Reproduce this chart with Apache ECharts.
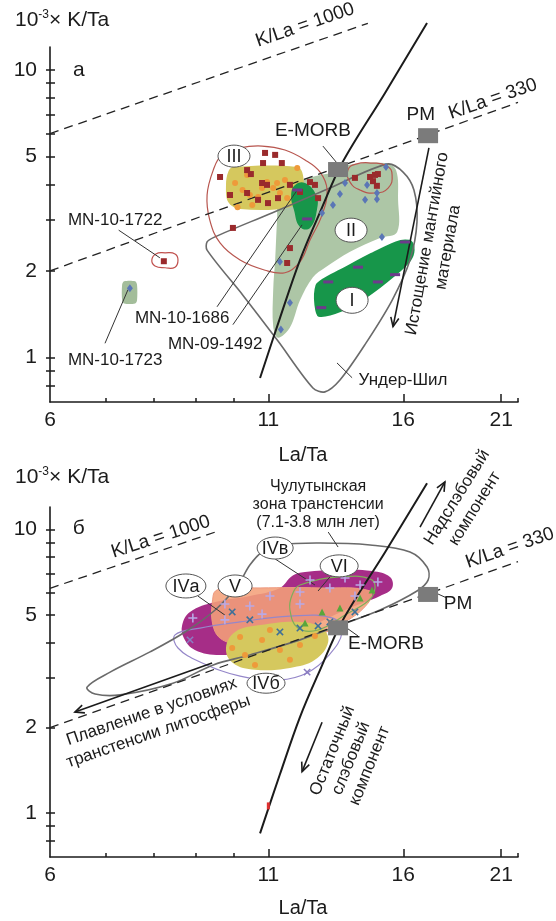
<!DOCTYPE html>
<html>
<head>
<meta charset="utf-8">
<script src="https://cdn.jsdelivr.net/npm/echarts@6/dist/echarts.min.js"></script>
<style>
  html, body { margin: 0; padding: 0; background: #fff; }
  #c { width: 556px; height: 921px; }
</style>
</head>
<body>
<div id="c"></div>
<script>
const FONT = '"Liberation Sans", Arial, Helvetica, sans-serif';

// ---- axes ----
const xTickLabels = [6, 11, 16, 21];
const xMajorTicks = [11, 16, 21];
const xMinorTicks = [7, 8, 9, 10, 22];
const yTickLabels = [1, 2, 5, 10];
const yTicks = [0.8, 0.9, 1, 2, 3, 4, 5, 6, 7, 8, 9, 10];

// ---- reference compositions and lines (La/Ta, 10^-3 K/Ta) ----
const eMorb = [[13.35, 4.5]];
const pm = [[17.14, 5.9]];
const kLa330 = [[6, 2.0], [22, 7.7]];
const kLa1000a = [[6, 6.0], [14.5, 14.5]];
const kLa1000b = [[6, 6.2], [9.6, 9.9]];
const mixCurve = [[10.75, 0.848], [11.36, 1.37], [12.01, 2.18], [12.70, 3.20], [13.50, 4.74], [15.21, 8.31], [17.09, 14.54]];

// ---- panel а: fields ----
const fieldII = [[11.36,3.95],[12.01,4.14],[12.70,4.31],[13.24,4.41],[13.72,4.67],[15.21,4.74],[15.68,4.48],[15.77,3.53],[15.73,2.73],[15.00,2.60],[13.80,2.33],[12.87,2.05],[12.45,1.90],[12.01,1.58],[11.68,1.27],[11.30,1.17],[11.15,1.28],[11.15,1.72],[11.21,2.18],[11.27,3.00]];
const fieldIIIcore = [[9.97,4.59],[11.92,4.59],[12.11,4.31],[12.08,3.67],[11.68,3.33],[10.17,3.28],[9.84,3.47],[9.78,3.98],[9.84,4.41]];
const fieldIII = [[9.44,4.48],[9.67,5.06],[10.17,5.35],[10.81,5.43],[11.52,5.26],[12.18,4.86],[12.70,4.41],[12.95,3.82],[12.77,3.13],[12.35,2.56],[12.01,2.15],[11.52,1.97],[10.90,2.01],[10.17,2.18],[9.62,2.50],[9.35,3.00],[9.28,3.67]];
const blobDark = [[11.85,3.98],[12.18,4.04],[12.56,3.67],[12.59,3.26],[12.35,2.82],[12.01,2.84],[11.81,3.26],[11.72,3.67]];
const fieldI = [[16.08,2.60],[16.43,2.56],[16.58,2.36],[16.39,2.15],[15.64,1.89],[14.59,1.62],[13.54,1.43],[12.63,1.37],[12.45,1.52],[12.49,1.79],[12.77,1.90],[13.42,2.05],[14.59,2.33],[15.64,2.56]];
const underShil = [[9.47,2.62],[11.11,3.18],[13.05,3.88],[15.29,4.70],[15.99,4.41],[16.48,3.82],[16.62,2.96],[16.30,2.18],[15.51,1.58],[14.39,1.11],[13.42,0.835],[12.87,0.759],[12.45,0.783],[11.30,1.14],[10.26,1.64],[9.28,2.36],[9.28,2.52]];
const ringRight = [[13.72,4.48],[14.03,4.70],[14.67,4.74],[15.29,4.63],[15.51,4.31],[15.34,3.88],[14.79,3.73],[14.19,3.82],[13.80,4.07]];
const ring1722 = [[7.96,2.18],[8.05,2.29],[8.26,2.31],[8.49,2.29],[8.56,2.18],[8.49,2.06],[8.26,2.05],[8.03,2.08]];
const blob1723 = [[7.37,1.84],[7.60,1.84],[7.64,1.79],[7.64,1.58],[7.60,1.54],[7.37,1.54],[7.33,1.58],[7.33,1.79]];

// ---- panel а: samples ----
const squaresA = [[10.90,5.14],[11.21,5.06],[10.84,4.74],[11.42,4.74],[9.62,4.24],[10.37,4.48],[10.48,4.34],[10.81,4.04],[10.96,3.98],[9.89,3.67],[10.37,3.73],[10.69,3.53],[11.30,3.58],[10.99,3.44],[11.68,3.98],[12.35,4.07],[12.52,3.98],[12.63,3.58],[9.97,2.82],[11.68,2.40],[11.59,2.13],[12.01,3.76],[13.99,4.21],[14.59,4.24],[14.79,4.31],[14.91,4.34],[14.71,4.10],[14.87,3.95],[8.23,2.16]];
const dotsA = [[11.92,4.56],[11.52,4.14],[11.27,4.04],[11.15,3.88],[10.96,4.07],[10.45,3.67],[10.03,4.04],[10.10,3.33],[10.52,3.39],[10.69,3.61],[11.36,3.73],[11.59,3.58],[10.37,4.31],[10.81,3.88],[10.24,3.82]];
const diamondsA = [[13.61,4.04],[14.47,3.98],[13.42,3.70],[14.87,3.73],[14.39,3.53],[14.87,3.55],[13.16,3.39],[15.25,4.59],[15.08,2.62],[11.68,1.55],[11.39,1.25],[12.77,3.18],[11.36,2.15],[7.49,1.74]];
const dashesA = [[16.08,2.52],[14.11,2.06],[12.99,1.83],[14.91,1.83],[15.64,1.94],[12.74,1.49],[11.92,3.82],[12.25,3.03]];

// ---- panel б: fields ----
const chulutyn = [[6.65,2.78],[7.09,3.14],[7.92,3.70],[8.73,4.35],[9.49,5.20],[10.11,6.37],[10.45,7.49],[10.81,8.33],[11.36,8.82],[12.70,8.96],[14.59,8.82],[16.30,8.33],[17.09,7.37],[17.14,6.63],[16.62,6.07],[15.00,5.20],[13.42,4.60],[12.01,4.08],[10.45,3.61],[9.44,3.33],[8.44,2.87],[7.29,2.61],[6.80,2.63]];
const fieldIVv = [[8.66,4.60],[8.85,5.12],[9.49,5.55],[10.45,5.83],[11.36,6.22],[11.75,6.85],[12.18,7.08],[13.42,7.20],[14.67,7.14],[15.42,6.80],[15.51,6.22],[15.00,5.83],[13.80,5.29],[12.70,4.72],[11.68,4.14],[10.60,3.76],[9.62,3.61],[8.97,3.76],[8.70,4.14]];
const fieldV = [[9.44,5.87],[9.62,6.17],[10.75,6.22],[12.70,6.22],[14.59,6.07],[14.51,5.50],[13.61,4.72],[12.35,4.14],[11.05,3.91],[9.89,3.98],[9.47,4.42]];
const fieldIVbCore = [[9.78,3.82],[10.03,4.35],[10.75,4.60],[12.01,4.72],[12.77,4.49],[12.99,4.01],[12.52,3.47],[11.68,3.25],[10.60,3.20],[9.97,3.38]];
const fieldIVb = [[8.49,4.25],[9.10,4.49],[10.17,4.72],[11.68,4.95],[13.16,4.87],[13.50,4.35],[12.99,3.58],[12.25,3.12],[11.36,2.95],[10.17,3.04],[9.10,3.41],[8.56,3.82]];
const fieldVI = [[12.01,6.37],[13.42,6.80],[14.67,6.63],[14.67,5.78],[13.61,4.99],[12.63,4.42],[11.94,4.49],[11.68,5.20],[11.75,5.87]];

// ---- panel б: samples ----
const plusB = [[8.92,4.87],[9.75,5.46],[10.45,5.37],[11.05,5.83],[12.01,6.02],[13.05,6.22],[14.19,6.37],[12.35,6.63],[13.61,6.74],[14.91,6.53],[10.81,5.03],[12.01,5.46],[9.75,4.80],[13.99,5.83]];
const crossB = [[9.95,5.12],[10.45,4.80],[12.01,4.49],[12.63,4.57],[11.36,4.35],[13.99,5.12],[13.05,4.72]];
const trianglesB = [[14.19,5.73],[13.42,5.29],[12.77,5.12],[12.18,4.68],[14.67,6.12]];
const dotsB = [[9.95,3.82],[10.31,3.61],[10.81,4.08],[11.36,3.76],[12.01,3.91],[10.60,3.33],[12.52,4.21],[10.17,4.18],[11.68,3.47],[11.05,4.42]];
const crossIVb = [[12.25,3.14],[8.85,4.08]];
const redMarkB = [[11.0, 1.06]];

// ---- annotations ----
const ringsA = [
  { text: 'III', at: [10.0, 5.01], rx: 16, ry: 11 },
  { text: 'II', at: [13.84, 2.77], rx: 16, ry: 12 },
  { text: 'I', at: [13.88, 1.58], rx: 16, ry: 13 }
];
const ringsB = [
  { text: 'IVа', at: [8.75, 6.32], rx: 20, ry: 12 },
  { text: 'V', at: [10.03, 6.32], rx: 17, ry: 11 },
  { text: 'IVв', at: [11.21, 8.60], rx: 18, ry: 11 },
  { text: 'VI', at: [13.39, 7.44], rx: 19, ry: 11 },
  { text: 'IVб', at: [10.93, 2.87], rx: 19, ry: 10 }
];
const notesA = [
  { text: 'а', at: [6.5, 10.0], size: 21 },
  { text: 'K/La = 1000', at: [12.18, 14.31], rot: 19, size: 19 },
  { text: 'K/La = 330', at: [20.52, 7.91], rot: 19, size: 19 },
  { text: 'E-MORB', at: [12.45, 6.13], size: 19 },
  { text: 'PM', at: [16.8, 6.96], size: 19 },
  { text: 'MN-10-1722', at: [7.19, 2.99], size: 17 },
  { text: 'MN-10-1723', at: [7.19, 0.98], size: 17 },
  { text: 'MN-10-1686', at: [8.66, 1.37], size: 17 },
  { text: 'MN-09-1492', at: [9.49, 1.11], size: 17 },
  { text: 'Ундер-Шил', at: [15.99, 0.83], size: 17 },
  { text: 'Истощение мантийного\nматериала', at: [17.6, 2.45], rot: 80, size: 17, lh: 21 }
];
const notesB = [
  { text: 'б', at: [6.5, 10.1], size: 21 },
  { text: 'K/La = 1000', at: [8.16, 9.41], rot: 18, size: 19 },
  { text: 'K/La = 330', at: [21.51, 8.60], rot: 19, size: 19 },
  { text: 'E-MORB', at: [15.25, 3.95], size: 19 },
  { text: 'PM', at: [18.63, 5.46], size: 19 },
  { text: 'Чулутынская\nзона транстенсии\n(7.1-3.8 млн лет)', at: [12.63, 12.2], size: 16, lh: 18 },
  { text: 'Плавление в условиях\nтранстенсии литосферы', at: [8.03, 2.10], rot: 19, size: 17, lh: 21 },
  { text: 'Надслэбовый\nкомпонент', at: [19.04, 12.40], rot: 58, size: 17, lh: 21 },
  { text: 'Остаточный\nслэбовый\nкомпонент', at: [13.84, 1.56], rot: 68, size: 17, lh: 20 }
];
const leadersA = [[7.26,2.77,8.14,2.22],[6.99,1.12,7.45,1.72],[9.54,1.50,11.92,3.82],[9.97,1.30,12.08,2.89],[13.31,0.957,13.88,0.85],[12.80,5.43,13.31,4.74]];
const arrowsA = [[17.18,5.35,15.55,1.28]];
const leadersB = [[9.05,5.82,9.75,4.99],[11.21,7.87,12.52,6.37],[13.05,6.80,12.63,6.07],[12.99,9.79,13.35,8.67],[13.68,4.49,14.11,4.21],[17.62,5.92,18.06,5.73]];
const arrowsB = [[9.41,3.38,6.43,2.27],[16.76,10.2,17.96,14.71],[12.77,2.09,12.08,1.40]];

// ---- series builders ----
const INK = '#1b1b1b';
const EMPTY = { type: 'group', children: [] };

function shape(g, pts, style, z, smooth, closed) {
  return {
    type: 'custom', xAxisIndex: g * 2, yAxisIndex: g * 2, data: pts, clip: false, silent: true, z,
    renderItem: (params, api) => {
      if (params.dataIndex !== 0) return EMPTY;
      const points = pts.map((p, i) => api.coord([api.value(0, i), api.value(1, i)]));
      return { type: closed === false ? 'polyline' : 'polygon', shape: { points, smooth: smooth == null ? 0.4 : smooth }, style };
    }
  };
}
function segments(g, segs, style, z, arrow) {
  return {
    type: 'custom', xAxisIndex: g * 2, yAxisIndex: g * 2, data: segs, clip: false, silent: true, z,
    renderItem: (params, api) => {
      const a = api.coord([api.value(0), api.value(1)]);
      const b = api.coord([api.value(2), api.value(3)]);
      const children = [{ type: 'line', shape: { x1: a[0], y1: a[1], x2: b[0], y2: b[1] }, style }];
      if (arrow) {
        const ang = Math.atan2(b[1] - a[1], b[0] - a[0]), L = 10, w = 0.42;
        children.push({ type: 'polyline', shape: { points: [
          [b[0] - L * Math.cos(ang - w), b[1] - L * Math.sin(ang - w)], [b[0], b[1]],
          [b[0] - L * Math.cos(ang + w), b[1] - L * Math.sin(ang + w)]] }, style });
      }
      return { type: 'group', children };
    }
  };
}
function notes(g, list, z) {
  return {
    type: 'custom', xAxisIndex: g * 2, yAxisIndex: g * 2, data: list.map(n => n.at), clip: false, silent: true, z,
    renderItem: (params, api) => {
      const n = list[params.dataIndex];
      const p = api.coord([api.value(0), api.value(1)]);
      return { type: 'text', x: p[0], y: p[1], rotation: (n.rot || 0) * Math.PI / 180,
        style: { text: n.text, fontSize: n.size || 17, fontFamily: FONT, fill: INK, align: 'center', verticalAlign: 'middle', lineHeight: n.lh || (n.size || 17) + 2 } };
    }
  };
}
function rings(g, list, z) {
  return {
    type: 'custom', xAxisIndex: g * 2, yAxisIndex: g * 2, data: list.map(n => n.at), clip: false, silent: true, z,
    renderItem: (params, api) => {
      const n = list[params.dataIndex];
      const p = api.coord([api.value(0), api.value(1)]);
      const outline = [];
      for (let k = 0; k < 36; k++) {
        const t = k / 36 * Math.PI * 2;
        outline.push([p[0] + n.rx * Math.cos(t), p[1] + n.ry * Math.sin(t)]);
      }
      return { type: 'group', children: [
        { type: 'polygon', shape: { points: outline }, style: { fill: '#fff', stroke: '#555', lineWidth: 1 } },
        { type: 'text', x: p[0], y: p[1] + 1, style: { text: n.text, fontSize: 18, fontFamily: FONT, fill: INK, align: 'center', verticalAlign: 'middle' } }
      ] };
    }
  };
}
function marks(g, data, symbol, size, color, z, extra) {
  return Object.assign({
    type: 'scatter', xAxisIndex: g * 2, yAxisIndex: g * 2, data, symbol, symbolSize: size,
    itemStyle: { color, opacity: 1 }, silent: true, z, clip: false, animation: false
  }, extra || {});
}
const PLUS = 'path://M-0.7,-4H0.7V4H-0.7Z M-4,-0.7H4V0.7H-4Z';

function xAxes(gridIndex) {
  const base = { type: 'log', logBase: 10, gridIndex, min: 6, max: 22, position: 'bottom', offset: 0, splitLine: { show: false } };
  return [
    Object.assign({}, base, {
      axisLine: { show: true, onZero: false, lineStyle: { color: INK, width: 1.6 } },
      axisTick: { show: true, inside: true, length: 8, customValues: xMajorTicks, lineStyle: { color: INK, width: 1.5 } },
      axisLabel: { show: true, customValues: xTickLabels, formatter: v => String(v), fontSize: 21, color: INK, fontFamily: FONT, margin: 8 }
    }),
    Object.assign({}, base, {
      axisLine: { show: false },
      axisTick: { show: true, inside: true, length: 4, customValues: xMinorTicks, lineStyle: { color: INK, width: 1.5 } },
      axisLabel: { show: false }
    })
  ];
}
function yAxes(gridIndex) {
  const base = { type: 'log', logBase: 10, gridIndex, min: 0.7, max: 12, position: 'left', offset: 0, splitLine: { show: false } };
  return [
    Object.assign({}, base, {
      axisLine: { show: true, onZero: false, lineStyle: { color: INK, width: 1.6 } },
      axisTick: { show: true, inside: false, length: 4, customValues: yTicks, lineStyle: { color: INK, width: 1.5 } },
      axisLabel: { show: true, customValues: yTickLabels, formatter: v => String(v), fontSize: 21, color: INK, fontFamily: FONT, margin: 13 }
    }),
    Object.assign({}, base, {
      axisLine: { show: false },
      axisTick: { show: true, inside: true, length: 5, customValues: yTicks, lineStyle: { color: INK, width: 1.5 } },
      axisLabel: { show: false }
    })
  ];
}

const dashed = { stroke: '#222', lineWidth: 1.3, lineDash: [9, 6], fill: 'none' };
const thin = { stroke: '#333', lineWidth: 1, fill: 'none' };
const arrowStyle = { stroke: INK, lineWidth: 1.6, fill: 'none' };
const curveStyle = { stroke: INK, lineWidth: 2, fill: 'none' };

function panelCommon(g) {
  return [
    shape(g, kLa330, dashed, 8, 0, false),
    shape(g, mixCurve, curveStyle, 9, 0.35, false),
    marks(g, eMorb, 'rect', [20, 15], '#7b7b7b', 20),
    marks(g, pm, 'rect', [20, 15], '#7b7b7b', 20)
  ];
}

const series = [
  // panel а
  shape(0, fieldII, { fill: '#adc6a6', stroke: 'none' }, 1, 0.35),
  shape(0, blob1723, { fill: '#a3bd9a', stroke: 'none' }, 1, 0.3),
  shape(0, fieldIIIcore, { fill: '#d5c85e', stroke: 'none' }, 2, 0.35),
  shape(0, blobDark, { fill: '#17964a', stroke: 'none' }, 3, 0.45),
  shape(0, fieldI, { fill: '#17964a', stroke: '#fff', lineWidth: 3 }, 3, 0.35),
  shape(0, underShil, { fill: 'none', stroke: '#6a6a6a', lineWidth: 1.6 }, 5, 0.3),
  shape(0, fieldIII, { fill: 'none', stroke: '#b8564f', lineWidth: 1.2 }, 5, 0.4),
  shape(0, ringRight, { fill: 'none', stroke: '#b8564f', lineWidth: 1.2 }, 5, 0.5),
  shape(0, ring1722, { fill: 'none', stroke: '#c0504d', lineWidth: 1.2 }, 5, 0.5),
  shape(0, kLa1000a, dashed, 8, 0, false),
  segments(0, leadersA, thin, 10, false),
  segments(0, arrowsA, arrowStyle, 10, true),
  marks(0, dotsA, 'circle', 6, '#ee9a3a', 12),
  marks(0, squaresA, 'rect', [6, 6], '#9a2a2c', 13),
  marks(0, diamondsA, 'diamond', [6, 8], '#5a76b6', 13),
  marks(0, dashesA, 'rect', [10, 3], '#6e3a8c', 13),
  ...panelCommon(0),
  rings(0, ringsA, 22),
  notes(0, notesA, 23),

  // panel б
  shape(1, fieldIVv, { fill: '#a62d87', stroke: 'none' }, 1, 0.4),
  shape(1, fieldV, { fill: 'rgba(244,160,122,0.88)', stroke: '#ee9a80', lineWidth: 1 }, 2, 0.4),
  shape(1, fieldIVbCore, { fill: '#d5c85e', stroke: 'none' }, 3, 0.4),
  shape(1, fieldIVb, { fill: 'none', stroke: '#9587c9', lineWidth: 1.2 }, 5, 0.4),
  shape(1, fieldVI, { fill: 'none', stroke: '#7fae5a', lineWidth: 1.2 }, 5, 0.4),
  shape(1, chulutyn, { fill: 'none', stroke: '#6a6a6a', lineWidth: 1.6 }, 5, 0.35),
  shape(1, kLa1000b, dashed, 8, 0, false),
  segments(1, leadersB, thin, 10, false),
  segments(1, arrowsB, arrowStyle, 10, true),
  marks(1, plusB, PLUS, 9, '#b9a9e6', 12),
  marks(1, crossB, PLUS, 9, '#3e7098', 12, { symbolRotate: 45 }),
  marks(1, trianglesB, 'triangle', 7, '#59a63b', 12),
  marks(1, dotsB, 'circle', 6, '#ee9a3a', 12),
  marks(1, crossIVb, PLUS, 9, '#8a7cc2', 12, { symbolRotate: 45 }),
  marks(1, redMarkB, 'rect', [3, 7], '#e03030', 12),
  ...panelCommon(1),
  rings(1, ringsB, 22),
  notes(1, notesB, 23)
];

const axisTitle = (y) => ({
  type: 'text', x: 15, y,
  style: { text: '10{s|-3}× K/Ta', fontSize: 21, fontFamily: FONT, fill: INK, verticalAlign: 'middle',
    rich: { s: { fontSize: 12, fontFamily: FONT, fill: INK, verticalAlign: 'top', lineHeight: 22 } } }
});
const xTitle = (y) => ({
  type: 'text', x: 303, y,
  style: { text: 'La/Ta', fontSize: 20, fontFamily: FONT, fill: INK, align: 'center', verticalAlign: 'middle' }
});

const chart = echarts.init(document.getElementById('c'));
chart.setOption({
  animation: false,
  backgroundColor: '#fff',
  grid: [
    { left: 50, top: 47, width: 468, height: 355 },
    { left: 50, top: 507, width: 468, height: 350 }
  ],
  xAxis: [...xAxes(0), ...xAxes(1)],
  yAxis: [...yAxes(0), ...yAxes(1)],
  graphic: [axisTitle(20), axisTitle(477), xTitle(455), xTitle(908)],
  series
});
</script>
</body>
</html>
